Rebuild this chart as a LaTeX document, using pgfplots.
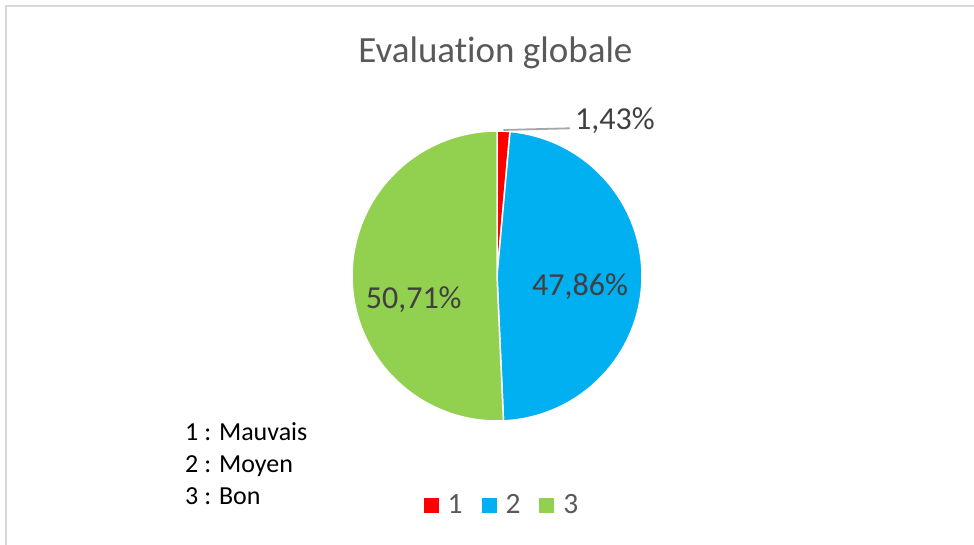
\documentclass[border=0pt]{standalone}
\usepackage{pgfplots}
\pgfplotsset{compat=1.18}
\usepackage{pgfplotstable}
\usepackage{fontspec}
\setmainfont{Carlito}[Ligatures={NoCommon}]
\definecolor{cRed}{HTML}{FF0000}
\definecolor{cBlue}{HTML}{00B0F0}
\definecolor{cGreen}{HTML}{92D050}
\definecolor{titlegray}{HTML}{595959}
\definecolor{labelgray}{HTML}{404040}
\definecolor{framegray}{HTML}{D9D9D9}
\definecolor{leadergray}{HTML}{A6A6A6}

\pgfplotstableread{
cat value
1 1.43
2 47.86
3 50.71
}\piedata

\pgfplotstablegetelem{0}{value}\of\piedata \let\vA\pgfplotsretval
\pgfplotstablegetelem{1}{value}\of\piedata \let\vB\pgfplotsretval
\pgfplotstablegetelem{2}{value}\of\piedata \let\vC\pgfplotsretval
% Excel: first slice starts at 12 o'clock, clockwise
\pgfmathsetmacro\aZero{90}
\pgfmathsetmacro\aOne{90-3.6*\vA}
\pgfmathsetmacro\aTwo{\aOne-3.6*\vB}
\pgfmathsetmacro\aThree{\aTwo-3.6*\vC}

\def\cx{497}
\def\cy{269}
\def\rr{145}

\begin{document}
\begin{tikzpicture}
\begin{axis}[
  width=974pt, height=545pt, scale only axis,
  xmin=0, xmax=974, ymin=0, ymax=545,
  hide axis, clip=false,
  legend columns=3,
  legend image code/.code={\fill[#1,draw=none] (0pt,-7.5pt) rectangle (15pt,7.5pt);},
  legend style={
    at={(502/974,40/545)}, anchor=center, draw=none, fill=none,
    font=\fontsize{29.5}{34}\selectfont, text=titlegray,
    column sep=7pt,
    /tikz/every even column/.append style={column sep=17pt},
  },
]
\addplot[fill=cRed, draw=white, line width=1.5pt, domain=\aOne:\aZero, samples=10]
  ({\cx+\rr*cos(x)},{\cy+\rr*sin(x)}) -- (axis cs:\cx,\cy) -- cycle;
\addlegendentry{1}
\addplot[fill=cBlue, draw=white, line width=1.5pt, domain=\aTwo:\aOne, samples=120]
  ({\cx+\rr*cos(x)},{\cy+\rr*sin(x)}) -- (axis cs:\cx,\cy) -- cycle;
\addlegendentry{2}
\addplot[fill=cGreen, draw=white, line width=1.5pt, domain=\aThree:\aTwo, samples=120]
  ({\cx+\rr*cos(x)},{\cy+\rr*sin(x)}) -- (axis cs:\cx,\cy) -- cycle;
\addlegendentry{3}

% frame
\draw[framegray, line width=2pt] (axis cs:6,0) -- (axis cs:6,539) -- (axis cs:974,539);
% title
\node[anchor=base, text=titlegray, font=\fontsize{37}{44}\selectfont, inner sep=0pt]
  at (axis cs:495.5,482.3) {Evaluation globale};
% leader line
\draw[leadergray, line width=1.8pt] (axis cs:503.3,415) -- (axis cs:570,416.7);
% data labels
\node[anchor=base west, text=labelgray, font=\fontsize{32}{36}\selectfont, inner sep=0pt]
  at (axis cs:575,415.7) {1,43\%};
\node[anchor=base, text=labelgray, font=\fontsize{32}{36}\selectfont, inner sep=0pt]
  at (axis cs:580,249) {47,86\%};
\node[anchor=base, text=labelgray, font=\fontsize{32}{36}\selectfont, inner sep=0pt]
  at (axis cs:413.7,236.7) {50,71\%};
% text box
\node[anchor=base west, font=\fontsize{26}{30}\selectfont, inner sep=0pt] at (axis cs:185,104) {1 : Mauvais};
\node[anchor=base west, font=\fontsize{26}{30}\selectfont, inner sep=0pt] at (axis cs:185,72) {2 : Moyen};
\node[anchor=base west, font=\fontsize{26}{30}\selectfont, inner sep=0pt] at (axis cs:185,40) {3 : Bon};
\end{axis}
\pgfresetboundingbox
\path (0,0) rectangle (974pt,545pt);
\end{tikzpicture}
\end{document}
